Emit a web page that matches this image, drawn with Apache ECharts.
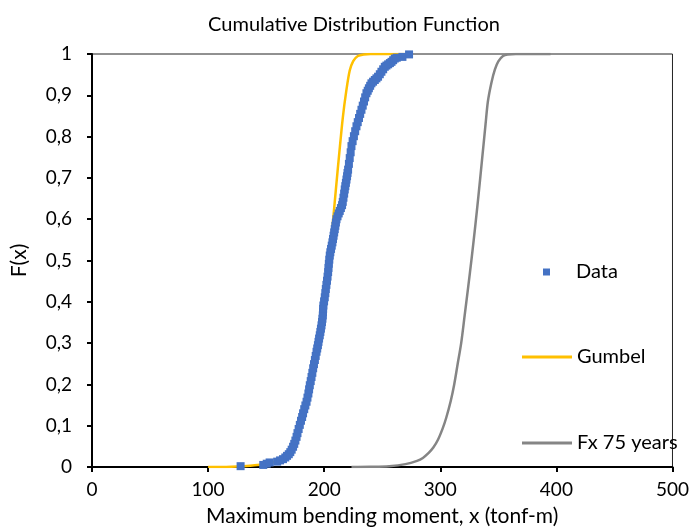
<!DOCTYPE html>
<html>
<head>
<meta charset="utf-8">
<script src="https://cdn.jsdelivr.net/npm/echarts@6/dist/echarts.min.js"></script>
<style>
  html, body { margin: 0; padding: 0; background: #fff; }
  #chart { width: 692px; height: 532px; }
</style>
</head>
<body>
<div id="chart"></div>
<script>
// empirical CDF of the data (x in tonf-m, F)
var dataX = [128.0, 147.5, 150.5, 153.0, 159.5, 162.0, 164.5, 166.5, 168.0, 169.5,
  170.8, 172.0, 173.2, 174.2, 175.2, 176.2, 177.0, 178.0, 179.0, 180.0,
  181.0, 181.8, 182.8, 183.8, 184.8, 185.6, 186.4, 187.0, 187.6, 188.4,
  189.1, 189.8, 190.5, 191.2, 192.0, 192.7, 193.4, 194.0, 194.6, 195.1,
  195.6, 196.2, 196.7, 197.2, 197.7, 198.1, 198.5, 198.8, 199.0, 199.1,
  199.3, 199.9, 200.5, 201.0, 201.4, 201.9, 202.4, 202.9, 203.4, 203.7,
  204.0, 204.4, 204.8, 205.3, 205.9, 206.5, 207.1, 207.6, 208.1, 208.6,
  209.1, 209.6, 210.1, 210.6, 211.5, 212.5, 213.4, 214.4, 215.4, 216.0,
  216.6, 217.2, 217.7, 218.2, 218.7, 219.2, 219.7, 220.1, 220.6, 221.3,
  222.0, 222.8, 223.5, 224.5, 225.6, 226.7, 227.8, 228.9, 230.0, 231.0,
  232.1, 233.2, 234.3, 235.3, 236.4, 237.5, 238.5, 239.6, 240.7, 242.1,
  243.6, 245.0, 246.4, 247.9, 249.3, 250.8, 252.2, 253.6, 255.1, 256.6,
  258.0, 259.4, 260.8, 262.5, 267.4, 273.1];
var dataF = [0.002, 0.005, 0.008, 0.011, 0.013, 0.016, 0.019, 0.023, 0.027, 0.031,
  0.036, 0.042, 0.049, 0.056, 0.064, 0.073, 0.082, 0.092, 0.102, 0.112,
  0.121, 0.130, 0.140, 0.149, 0.158, 0.168, 0.178, 0.188, 0.198, 0.208,
  0.218, 0.228, 0.239, 0.249, 0.259, 0.269, 0.279, 0.287, 0.295, 0.303,
  0.311, 0.319, 0.327, 0.335, 0.343, 0.351, 0.359, 0.367, 0.375, 0.383,
  0.391, 0.401, 0.411, 0.421, 0.431, 0.441, 0.451, 0.461, 0.472, 0.482,
  0.492, 0.502, 0.512, 0.520, 0.528, 0.536, 0.544, 0.552, 0.560, 0.568,
  0.576, 0.584, 0.592, 0.600, 0.607, 0.614, 0.620, 0.627, 0.634, 0.642,
  0.652, 0.662, 0.672, 0.680, 0.688, 0.696, 0.704, 0.712, 0.720, 0.734,
  0.748, 0.762, 0.777, 0.789, 0.801, 0.813, 0.825, 0.835, 0.845, 0.855,
  0.865, 0.875, 0.885, 0.895, 0.905, 0.911, 0.917, 0.923, 0.929, 0.933,
  0.937, 0.941, 0.945, 0.951, 0.957, 0.963, 0.969, 0.972, 0.975, 0.978,
  0.981, 0.985, 0.989, 0.991, 0.993, 0.999];

// fitted Gumbel curve
var gumbelX = [100, 110, 120, 130, 140, 150, 160, 165, 170, 175, 180, 185, 190,
  195, 200, 205, 210, 213, 216, 219, 222, 225, 229, 234, 240, 270];
var gumbelF = [0, 0.0002, 0.0008, 0.002, 0.004, 0.008, 0.014, 0.021, 0.036, 0.06,
  0.1, 0.16, 0.235, 0.31, 0.4, 0.52, 0.67, 0.76, 0.845, 0.91, 0.96, 0.983,
  0.995, 0.999, 1, 1];

// extrapolated 75-year distribution
var fx75X = [223.5, 240, 256, 270, 280, 285, 290, 294, 298, 302, 305, 309, 312,
  315, 318, 321, 324, 327, 330, 333, 336, 339, 341, 344, 347, 350, 354, 358,
  365, 395];
var fx75F = [0, 0.0005, 0.002, 0.007, 0.015, 0.022, 0.034, 0.047, 0.066, 0.093,
  0.118, 0.16, 0.2, 0.25, 0.3, 0.367, 0.435, 0.505, 0.58, 0.66, 0.745, 0.83,
  0.885, 0.93, 0.962, 0.982, 0.995, 0.999, 1, 1];

var xTicks = [0, 100, 200, 300, 400, 500];

function zip(xs, ys) {
  var out = [];
  for (var i = 0; i < xs.length; i++) out.push([xs[i], ys[i]]);
  return out;
}

var font = 'Lato';
var chart = echarts.init(document.getElementById('chart'), null, { renderer: 'canvas' });

chart.setOption({
  animation: false,
  backgroundColor: '#fff',
  textStyle: { fontFamily: font, color: '#000' },
  title: {
    text: 'Cumulative Distribution Function',
    left: 349, top: 10, textAlign: 'center',
    textStyle: { fontFamily: font, fontSize: 20, fontWeight: 'normal', color: '#000' }
  },
  grid: {
    left: 92, right: 18, top: 54, bottom: 63,
    show: true, borderColor: '#222', borderWidth: 1
  },
  legend: [
    {
      data: [{ name: 'Data', icon: 'rect' }],
      left: 543, top: 261, padding: 0,
      itemWidth: 7, itemHeight: 7,
      textStyle: { fontFamily: font, fontSize: 20, color: '#000', lineHeight: 22, padding: [0, 0, 0, 21] }
    },
    {
      data: [{ name: 'Gumbel', icon: 'rect' }],
      left: 522, top: 346, padding: 0,
      itemWidth: 50, itemHeight: 3,
      textStyle: { fontFamily: font, fontSize: 20, color: '#000', lineHeight: 22 }
    },
    {
      data: [{ name: 'Fx 75 years', icon: 'rect' }],
      left: 522, top: 432, padding: 0,
      itemWidth: 50, itemHeight: 3,
      textStyle: { fontFamily: font, fontSize: 20, color: '#000', lineHeight: 22 }
    }
  ],
  xAxis: {
    type: 'value', min: xTicks[0], max: xTicks[xTicks.length - 1], interval: 100,
    name: 'Maximum bending moment, x (tonf-m)',
    nameLocation: 'middle', nameGap: 39,
    nameTextStyle: { fontFamily: font, fontSize: 21, color: '#000' },
    axisLine: { show: true, onZero: false, lineStyle: { color: '#000', width: 2 } },
    axisTick: { show: true, inside: false, length: 5, lineStyle: { color: '#000', width: 2 } },
    axisLabel: { margin: 13, fontFamily: font, fontSize: 19, color: '#000' },
    splitLine: { show: false }
  },
  yAxis: {
    type: 'value', min: 0, max: 1, interval: 0.1,
    name: 'F(x)', nameLocation: 'middle', nameGap: 62, nameRotate: 90,
    nameTextStyle: { fontFamily: font, fontSize: 21, color: '#000' },
    axisLine: { show: true, lineStyle: { color: '#000', width: 2 } },
    axisTick: { show: true, inside: false, length: 5, lineStyle: { color: '#000', width: 2 } },
    axisLabel: {
      margin: 20, fontFamily: font, fontSize: 19, color: '#000',
      formatter: function (v) {
        if (v === 0) return '0';
        if (Math.abs(v - 1) < 1e-9) return '1';
        return v.toFixed(1).replace('.', ',');
      }
    },
    splitLine: { show: false }
  },
  series: [
    {
      name: 'Data', type: 'scatter', symbol: 'rect', symbolSize: 8,
      itemStyle: { color: '#4472C4', opacity: 1 },
      data: zip(dataX, dataF), z: 3
    },
    {
      name: 'Gumbel', type: 'line', smooth: 0.3, symbol: 'none', showSymbol: false,
      lineStyle: { color: '#FFC000', width: 2.5 },
      itemStyle: { color: '#FFC000' },
      data: zip(gumbelX, gumbelF), z: 2
    },
    {
      name: 'Fx 75 years', type: 'line', smooth: 0.3, symbol: 'none', showSymbol: false,
      lineStyle: { color: '#858585', width: 2.5 },
      itemStyle: { color: '#858585' },
      data: zip(fx75X, fx75F), z: 2
    }
  ]
});
</script>
</body>
</html>
